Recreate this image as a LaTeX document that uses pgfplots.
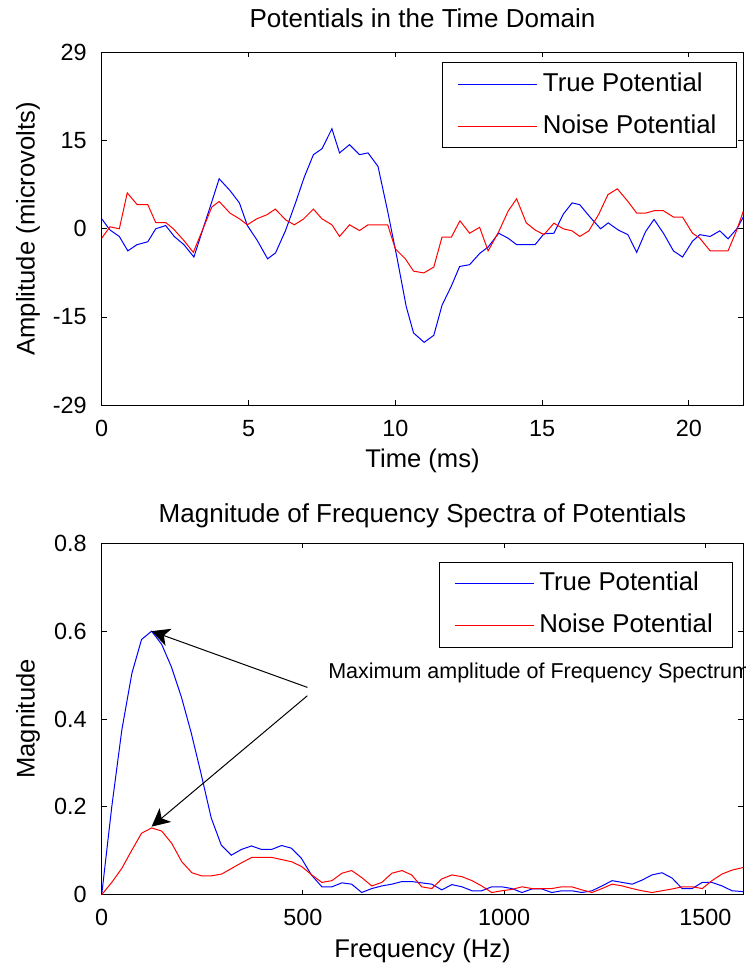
\documentclass[border=0pt]{standalone}
\usepackage{pgfplots}
\pgfplotsset{compat=1.18}
\usetikzlibrary{arrows.meta}
\usepackage{fontspec}
\setmainfont{Liberation Sans}

\pgfplotsset{
  mlab/.style={
    scale only axis, width=320.8pt,
    clip mode=individual,
    tick align=inside, major tick length=2.5pt,
    tick style={black, line width=0.5pt},
    axis line style={line width=0.6pt},
    every tick label/.append style={font=\fontsize{11.7}{14}\selectfont},
    xticklabel style={anchor=center, yshift=-11.5pt},
    yticklabel style={anchor=east, xshift=-4pt},
    xlabel style={font=\fontsize{12.8}{15}\selectfont, at={(axis description cs:0.5,0)}, anchor=center, yshift=-28pt},
    ylabel style={font=\fontsize{12.8}{15}\selectfont, at={(axis description cs:-0.115,0.5)}, anchor=center, rotate=0},
    title style={font=\fontsize{13}{15}\selectfont, anchor=center, at={(axis description cs:0.5,1)}},
    legend cell align=left,
    legend image code/.code={\draw[#1] (0pt,0pt) -- (39.5pt,0pt);},
    legend style={draw=black, line width=0.5pt, fill=white,
      font=\fontsize{12.9}{15}\selectfont,
      at={(1,1)}, anchor=north east,
      inner xsep=7.5pt, inner ysep=1.8pt, row sep=3pt,
      nodes={inner sep=2.5pt, text height=10pt, text depth=3pt}},
  }
}

\begin{document}
\begin{tikzpicture}
\path[use as bounding box] (-50.85pt,-281.35pt) rectangle (321.65pt,202.65pt);

\begin{axis}[mlab, at={(0pt,0pt)}, anchor=south west, height=176.5pt,
  xmin=0, xmax=21.85, ymin=-30, ymax=30,
  xtick={0,5,10,15,20}, xticklabels={0,5,10,15,20},
  ytick={-30,-15,0,15,30}, yticklabels={-29,-15,0,15,29},
  title={Potentials in the Time Domain}, title style={yshift=11pt},
  xlabel={Time (ms)}, ylabel={Amplitude (microvolts)},
  legend style={xshift=-3.15pt, yshift=-4.85pt}]
\addplot[blue, line width=0.5pt] coordinates {
(0,1.7)(0.28,-0.2)(0.6,-1.3)(0.89,-3.75)(1.2,-2.7)(1.57,-2.2)(1.84,0)(2.18,0.56)(2.47,-1.3)(2.8,-2.7)(3.14,-4.8)(3.47,0.3)(3.75,4.6)(4.0,8.5)(4.37,6.5)(4.69,4.4)(4.96,0.56)(5.3,-2.0)(5.65,-5.1)(5.92,-4.1)(6.26,-0.3)(6.6,4.4)(6.9,8.8)(7.21,12.6)(7.5,13.6)(7.84,17.0)(8.1,12.9)(8.44,14.3)(8.78,12.6)(9.07,12.9)(9.41,10.6)(9.74,2.95)(10.06,-5.0)(10.37,-13.2)(10.62,-17.7)(10.98,-19.3)(11.31,-18.1)(11.59,-13.0)(11.91,-9.7)(12.19,-6.4)(12.53,-6.1)(12.87,-4.2)(13.16,-3.1)(13.52,-0.75)(13.84,-1.6)(14.13,-2.7)(14.46,-2.7)(14.76,-2.7)(15.06,-0.85)(15.4,-0.75)(15.72,2.5)(16.02,4.4)(16.28,4.1)(16.63,2.0)(16.99,0)(17.25,1.0)(17.59,-0.2)(17.92,-1.0)(18.22,-4.0)(18.52,-0.5)(18.81,1.6)(19.13,-0.75)(19.47,-3.75)(19.78,-4.8)(20.12,-2.1)(20.37,-1.0)(20.72,-1.3)(21.05,-0.35)(21.33,-1.7)(21.63,0)(21.85,2.0)
};
\addlegendentry{True Potential}
\addplot[red, line width=0.5pt] coordinates {
(0,-1.6)(0.28,0.34)(0.6,0)(0.87,6.1)(1.21,4.1)(1.57,4.1)(1.84,1.07)(2.18,1.07)(2.44,0)(2.8,-2.0)(3.12,-4.0)(3.45,0)(3.75,3.7)(4.0,4.65)(4.37,2.66)(4.69,1.7)(4.96,0.68)(5.28,1.7)(5.63,2.4)(5.91,3.35)(6.27,1.5)(6.56,0.68)(6.87,1.65)(7.21,3.35)(7.5,1.7)(7.84,0.68)(8.1,-1.3)(8.44,0.68)(8.78,-0.3)(9.07,0.68)(9.41,0.68)(9.74,0.68)(10.0,-3.4)(10.34,-5.1)(10.62,-7.2)(10.97,-7.5)(11.31,-6.5)(11.59,-1.4)(11.91,-1.4)(12.2,1.36)(12.53,-0.75)(12.87,0.25)(13.16,-3.75)(13.52,-0.5)(13.84,3.0)(14.13,5.1)(14.46,1.0)(14.76,-0.2)(15.06,-1.0)(15.4,0.96)(15.72,0)(16.02,-0.35)(16.28,-1.3)(16.59,-0.35)(16.93,2.5)(17.24,5.8)(17.56,6.8)(17.92,4.65)(18.22,2.66)(18.52,2.66)(18.81,3.07)(19.13,3.07)(19.47,2.0)(19.78,2.0)(20.12,-0.75)(20.37,-1.6)(20.72,-3.75)(21.05,-3.75)(21.33,-3.75)(21.63,-0.2)(21.85,3.0)
};
\addlegendentry{Noise Potential}
\end{axis}

\begin{axis}[mlab, at={(0pt,-244.7pt)}, anchor=south west, height=175.7pt,
  xmin=0, xmax=1594, ymin=0, ymax=0.8,
  xtick={0,500,1000,1500}, xticklabels={0,500,1000,1500},
  ytick={0,0.2,0.4,0.6,0.8}, yticklabels={0,0.2,0.4,0.6,0.8},
  title={Magnitude of Frequency Spectra of Potentials}, title style={yshift=8pt},
  xlabel={Frequency (Hz)}, ylabel={Magnitude},
  legend style={xshift=-5pt, yshift=-9.2pt}]
\addplot[blue, line width=0.5pt] coordinates {
(0,0)(25,0.2)(50,0.375)(75,0.504)(99,0.581)(124,0.60)(149,0.570)(173,0.519)(198,0.45)(222,0.37)(247,0.275)(272,0.175)(297,0.113)(322,0.09)(347,0.103)(372,0.111)(397,0.103)(422,0.103)(447,0.112)(471,0.106)(496,0.083)(521,0.045)(547,0.018)(572,0.018)(597,0.027)(621,0.024)(646,0.005)(671,0.014)(696,0.02)(721,0.024)(746,0.03)(770,0.03)(795,0.027)(820,0.024)(845,0.011)(870,0.023)(895,0.018)(920,0.009)(944,0.009)(969,0.018)(994,0.018)(1019,0.014)(1044,0.005)(1069,0.013)(1094,0.013)(1118,0.005)(1143,0.009)(1168,0.009)(1193,0.005)(1218,0.009)(1243,0.02)(1268,0.032)(1293,0.028)(1318,0.024)(1342,0.033)(1367,0.045)(1392,0.05)(1417,0.038)(1442,0.014)(1467,0.014)(1492,0.028)(1516,0.028)(1541,0.02)(1566,0.009)(1594,0.007)
};
\addlegendentry{True Potential}
\addplot[red, line width=0.5pt] coordinates {
(0,0)(25,0.028)(50,0.06)(74,0.1)(99,0.14)(124,0.152)(149,0.145)(174,0.117)(199,0.075)(224,0.05)(248,0.043)(273,0.043)(298,0.047)(323,0.06)(348,0.073)(373,0.085)(398,0.085)(422,0.085)(447,0.08)(472,0.075)(497,0.064)(522,0.045)(547,0.028)(572,0.032)(597,0.049)(621,0.055)(646,0.039)(671,0.02)(696,0.028)(721,0.049)(746,0.055)(770,0.045)(795,0.018)(820,0.014)(845,0.036)(870,0.045)(895,0.041)(920,0.032)(944,0.02)(969,0.005)(994,0.009)(1019,0.012)(1044,0.018)(1069,0.014)(1094,0.014)(1118,0.014)(1143,0.018)(1168,0.018)(1193,0.011)(1218,0.005)(1243,0.014)(1268,0.024)(1293,0.02)(1318,0.014)(1342,0.009)(1367,0.005)(1392,0.009)(1417,0.013)(1442,0.018)(1467,0.018)(1492,0.014)(1516,0.032)(1541,0.047)(1566,0.056)(1594,0.062)
};
\addlegendentry{Noise Potential}
\draw[line width=0.5pt, -{Stealth[length=9pt,width=9pt,inset=2.5pt]}] (axis cs:511,0.472) -- (axis cs:124,0.60);
\draw[line width=0.5pt, -{Stealth[length=9pt,width=9pt,inset=2.5pt]}] (axis cs:511,0.453) -- (axis cs:124,0.155);
\node[anchor=west, inner sep=0pt, font=\fontsize{10.75}{13}\selectfont] at (axis cs:562,0.504) {Maximum amplitude of Frequency Spectrum};
\end{axis}
\end{tikzpicture}
\end{document}
